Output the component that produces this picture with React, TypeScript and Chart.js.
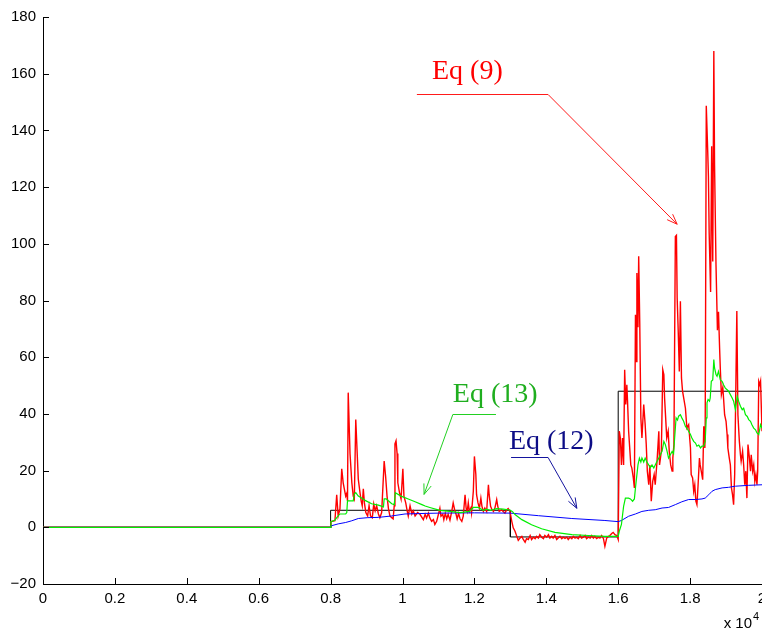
import React, { useEffect, useRef } from 'react';
import { Chart, registerables } from 'chart.js';

Chart.register(...registerables);

// x values are in units of 10^4
const stepSeries: [number, number][] = [
  [0, 0], [0.8, 0], [0.8, 6], [1.3, 6], [1.3, -3.4], [1.6, -3.4], [1.6, 48], [2.0, 48],
];

const redSeriesA: [number, number][] = [
  [0, 0], [0.8, 0], [0.801, 2.0], [0.812, 2.3], [0.817, 11.5], [0.821, 4], [0.826, 6.5], [0.831, 20.6],
  [0.835, 15.7], [0.838, 13.6], [0.842, 11], [0.845, 12], [0.847, 9.3], [0.849, 47.5], [0.854, 26],
  [0.859, 15.8], [0.863, 11], [0.866, 10], [0.870, 38], [0.874, 26], [0.877, 17], [0.882, 12],
  [0.885, 9.3], [0.888, 7.6], [0.891, 13.6], [0.894, 8.6], [0.898, 5.2], [0.903, 4], [0.907, 7.6],
  [0.911, 4], [0.916, 3.4], [0.920, 8.2], [0.924, 5.8], [0.928, 7.6], [0.933, 4.7], [0.937, 3.4],
  [0.942, 5.2], [0.949, 23.4], [0.953, 18], [0.957, 11], [0.961, 6.5], [0.965, 4], [0.970, 3.4],
  [0.974, 3], [0.977, 7.6], [0.979, 29.4], [0.982, 30.5], [0.985, 26], [0.987, 15.7], [0.992, 12],
  [0.996, 10], [1.001, 20.6], [1.004, 11], [1.009, 8.6], [1.013, 5.8], [1.016, 4], [1.021, 7.6],
  [1.026, 4.7], [1.030, 5.8], [1.035, 4], [1.042, 5.2], [1.049, 4.5], [1.058, 2.7], [1.063, 4.6],
  [1.067, 3.3], [1.072, 5], [1.076, 3.3], [1.081, 2.1], [1.086, 2.7], [1.090, 1], [1.095, 2.1],
  [1.100, 4.6], [1.104, 6.7], [1.107, 3.9], [1.112, 4.6], [1.115, 2.7], [1.119, 4.9], [1.123, 3],
  [1.127, 4.6], [1.132, 2.5], [1.137, 5.6], [1.141, 8.6], [1.145, 6.2], [1.149, 4.6], [1.152, 3],
  [1.156, 4.9], [1.160, 3], [1.165, 2.1], [1.169, 3.9], [1.174, 11.5], [1.177, 6.8], [1.180, 5.6],
  [1.183, 8.6], [1.186, 5.6], [1.190, 6.8], [1.192, 5], [1.197, 12.7], [1.200, 25], [1.204, 18.6],
  [1.206, 11.5], [1.210, 8.6], [1.214, 6.8], [1.218, 10.3], [1.221, 7.4], [1.225, 5.6], [1.229, 6.8],
  [1.234, 5.6], [1.239, 15], [1.241, 11.5], [1.245, 7.4], [1.249, 6.2], [1.253, 5.6], [1.257, 6.8],
  [1.262, 9.8], [1.265, 7.4], [1.269, 5.6], [1.276, 6.2], [1.280, 5.6], [1.285, 5], [1.290, 6.2],
  [1.294, 6.6], [1.299, 5.6],
];

const redSeriesB: [number, number][] = [
  [1.304, 2.1], [1.308, -0.2], [1.313, -1.4], [1.318, -3.2], [1.322, -4.6], [1.327, -3.8], [1.332, -3.2],
  [1.336, -4.3], [1.341, -5.3], [1.345, -4], [1.350, -4.3], [1.355, -2.9], [1.359, -4.3], [1.364, -3.5],
  [1.369, -4], [1.373, -3.2], [1.378, -3.8], [1.382, -2.6], [1.387, -3.5], [1.392, -4], [1.396, -2.9],
  [1.401, -3.5], [1.406, -2.6], [1.410, -3.8], [1.415, -3.2], [1.419, -3.8], [1.424, -2.9], [1.429, -4.3],
  [1.433, -3.8], [1.438, -3.2], [1.443, -4], [1.447, -3.5], [1.452, -3.9], [1.457, -3.5], [1.461, -4.3],
  [1.466, -3.5], [1.471, -4], [1.475, -3.2], [1.480, -3.8], [1.484, -3.5], [1.489, -4], [1.494, -2.9],
  [1.498, -3.8], [1.503, -3.5], [1.508, -2.9], [1.512, -4], [1.517, -3.5], [1.522, -3.8], [1.526, -2.9],
  [1.531, -3.8], [1.535, -3.2], [1.540, -4], [1.545, -3.5], [1.549, -3.8], [1.554, -2.9], [1.559, -4],
  [1.563, -6.7], [1.568, -3.8], [1.573, -3.2], [1.577, -2.9], [1.582, -2.2], [1.586, -1.8], [1.591, -2.6],
  [1.596, -2.9], [1.600, -4.3],
];

const redSeriesC: [number, number][] = [
  [1.603, 33.9], [1.606, 31.5], [1.609, 22], [1.612, 31.5], [1.615, 22], [1.618, 55.6], [1.621, 43.3],
  [1.624, 50.3], [1.626, 44.4], [1.629, 33.9], [1.632, 28], [1.635, 22], [1.638, 20.9], [1.642, 17.4],
  [1.645, 13.9], [1.648, 75], [1.650, 58.5], [1.652, 89.7], [1.655, 70.6], [1.657, 95.6], [1.660, 71.5],
  [1.663, 38.6], [1.666, 31.5], [1.671, 43.3], [1.675, 36.2], [1.678, 29.2], [1.681, 19.8], [1.685, 15],
  [1.688, 22], [1.692, 9.2], [1.696, 16.2], [1.700, 18.6], [1.703, 15], [1.708, 23.3], [1.713, 33.9],
  [1.715, 22], [1.720, 26.8], [1.724, 55.6], [1.727, 53.9], [1.729, 45.6], [1.732, 38.6], [1.735, 31.5],
  [1.739, 33.9], [1.742, 26.8], [1.746, 22], [1.750, 19.8], [1.752, 24.4], [1.755, 29.2], [1.759, 102.6],
  [1.762, 103], [1.764, 81], [1.767, 69], [1.770, 55], [1.773, 79.7], [1.776, 52.7], [1.779, 48],
  [1.787, 42], [1.791, 35], [1.796, 36.2], [1.801, 28], [1.803, 18.6], [1.807, 17.4], [1.810, 12.7],
  [1.813, 15], [1.816, 9.2], [1.819, 8], [1.822, 14.5], [1.826, 24.4], [1.828, 22], [1.831, 19.8],
  [1.835, 16.8], [1.838, 35.6], [1.841, 28], [1.842, 35], [1.845, 148.7], [1.849, 132.6], [1.851, 123.6],
  [1.853, 104], [1.857, 83], [1.860, 134.4], [1.863, 93.8], [1.866, 168], [1.868, 128], [1.872, 92.8],
  [1.876, 69.5], [1.879, 76], [1.882, 63.4], [1.884, 56], [1.887, 46.8], [1.891, 49.3], [1.893, 45.6],
  [1.896, 39.7], [1.900, 37.4], [1.903, 32.7], [1.905, 28], [1.909, 24.4], [1.912, 22], [1.915, 13.9],
  [1.918, 11.5], [1.921, 8], [1.924, 18.6], [1.930, 76.3], [1.933, 39.7], [1.937, 30.3], [1.940, 25.6],
  [1.942, 23.3], [1.946, 26.8], [1.949, 22], [1.952, 15], [1.955, 19.8], [1.958, 10.3], [1.961, 29.2],
  [1.965, 24.4], [1.968, 19.8], [1.970, 25.6], [1.974, 19.8], [1.977, 22], [1.980, 16.2], [1.983, 18.6],
  [1.986, 15], [1.988, 19.8], [1.991, 51.5], [1.994, 50.3], [1.996, 51.5], [2.000, 33.9],
];

const greenSeries: [number, number][] = [
  [0, 0], [0.8, 0], [0.801, 2.0], [0.812, 2.5], [0.817, 3.4], [0.826, 4.7], [0.842, 4.7], [0.845, 5.2],
  [0.847, 9.3], [0.863, 9.3], [0.866, 11.8], [0.870, 12.2], [0.877, 11], [0.886, 10.3], [0.896, 9.5],
  [0.914, 8.3], [0.933, 7.8], [0.947, 7.2], [0.949, 10], [0.955, 10], [0.970, 8.3], [0.977, 8],
  [0.980, 12.2], [0.996, 11], [1.016, 10], [1.035, 9], [1.054, 8], [1.063, 7.5], [1.076, 7], [1.104, 6],
  [1.132, 5.6], [1.160, 5.2], [1.186, 5.6], [1.197, 7], [1.210, 7], [1.225, 6], [1.234, 6.4], [1.245, 6],
  [1.262, 6.6], [1.280, 6.4], [1.294, 6.2], [1.300, 6], [1.306, 5.5], [1.313, 4.5], [1.332, 2.7],
  [1.359, 0.9], [1.387, -0.5], [1.424, -1.8], [1.471, -2.6], [1.517, -2.9], [1.563, -3.2], [1.600, -3.2],
  [1.603, -1.4], [1.609, 1], [1.615, 7.4], [1.620, 10.3], [1.629, 10.3], [1.634, 10], [1.640, 9.2],
  [1.645, 10], [1.648, 13.9], [1.655, 22], [1.659, 24.4], [1.663, 23], [1.666, 24.4], [1.671, 23],
  [1.675, 24.4], [1.680, 23], [1.685, 22], [1.689, 21], [1.694, 22], [1.699, 20.9], [1.703, 22],
  [1.708, 23.3], [1.713, 24.4], [1.717, 25.6], [1.722, 26.8], [1.727, 30.3], [1.731, 29.2], [1.736, 26.8],
  [1.740, 24.4], [1.745, 25.6], [1.750, 26.8], [1.754, 26], [1.757, 31.5], [1.761, 38.6], [1.765, 37.8],
  [1.768, 39.2], [1.773, 39.7], [1.777, 38.6], [1.782, 37.4], [1.787, 35.6], [1.791, 35], [1.796, 33.9],
  [1.801, 32.7], [1.805, 31.5], [1.810, 30.3], [1.815, 29.7], [1.819, 28.6], [1.824, 29], [1.829, 28],
  [1.833, 28.6], [1.838, 28.6], [1.842, 30.3], [1.845, 38.6], [1.847, 43.9], [1.850, 45.1], [1.854, 44.5],
  [1.856, 45.6], [1.859, 51.5], [1.863, 52], [1.866, 59.2], [1.868, 56.2], [1.872, 53.9], [1.875, 53.3],
  [1.879, 55], [1.884, 52], [1.889, 51.5], [1.893, 50.3], [1.898, 49.1], [1.903, 48.5], [1.907, 48],
  [1.912, 46.8], [1.917, 45.6], [1.921, 44.5], [1.926, 41.5], [1.931, 46.2], [1.935, 44.5], [1.940, 42.7],
  [1.945, 41.5], [1.949, 42], [1.954, 39.7], [1.959, 39.1], [1.963, 38], [1.968, 37.4], [1.972, 36.2],
  [1.977, 35], [1.982, 34.4], [1.986, 33.3], [1.991, 32.7], [1.996, 36.2], [2.000, 35],
];

const blueSeries: [number, number][] = [
  [0, 0], [0.8, 0], [0.801, 0.5], [0.821, 1.2], [0.842, 1.7], [0.859, 2.3], [0.877, 3.1], [0.903, 3.4],
  [0.933, 3.5], [0.970, 4], [1.007, 4.7], [1.063, 4.9], [1.10, 5], [1.2, 5.1], [1.3, 5], [1.378, 4.1],
  [1.471, 3.1], [1.563, 2.4], [1.600, 2], [1.609, 2.4], [1.629, 3.9], [1.648, 4.7], [1.666, 5.6],
  [1.685, 6], [1.703, 6.2], [1.722, 6.8], [1.740, 7], [1.759, 8], [1.777, 9], [1.796, 9.8], [1.815, 9.8],
  [1.833, 10], [1.842, 10.3], [1.852, 11.5], [1.861, 12.7], [1.870, 13.3], [1.889, 13.9], [1.907, 14.1],
  [1.926, 14.5], [1.963, 14.8], [2.0, 15],
];

// annotation anchors in data coordinates
const annotationLabels = ['Eq (9)', 'Eq (13)', 'Eq (12)'];
const annotationTextAt: [number, number][] = [[1.082, 160.8], [1.140, 46.9], [1.296, 30.3]];
const annotationLineFrom: [number, number][] = [[1.040, 152.7], [1.260, 39.9], [1.302, 24.7]];
const annotationElbow: [number, number][] = [[1.405, 152.7], [1.140, 39.9], [1.405, 24.7]];
const annotationTip: [number, number][] = [[1.764, 106.9], [1.060, 11.6], [1.485, 6.7]];
const annotationTextColors = ['#ff0000', '#1fae1f', '#0c0c86'];
const annotationLineColors = ['#ff1a1a', '#22d022', '#14149e'];

const toPts = (s: [number, number][]) => s.map(([x, y]) => ({ x, y }));

const overlayPlugin = {
  id: 'overlay',
  afterDraw(chart: any) {
    const ctx = chart.ctx as CanvasRenderingContext2D;
    const xs = chart.scales.x;
    const ys = chart.scales.y;
    const area = chart.chartArea;
    ctx.save();
    // inward tick marks
    ctx.strokeStyle = '#000';
    ctx.lineWidth = 1;
    xs.ticks.forEach((t: any) => {
      const px = Math.round(xs.getPixelForValue(t.value)) + 0.5;
      ctx.beginPath();
      ctx.moveTo(px, area.bottom);
      ctx.lineTo(px, area.bottom - 6);
      ctx.stroke();
    });
    ys.ticks.forEach((t: any) => {
      const py = Math.round(ys.getPixelForValue(t.value)) + 0.5;
      ctx.beginPath();
      ctx.moveTo(area.left, py);
      ctx.lineTo(area.left + 6, py);
      ctx.stroke();
    });
    // exponent label
    ctx.fillStyle = '#000';
    ctx.font = '15px "Liberation Sans", Arial, sans-serif';
    ctx.textAlign = 'right';
    ctx.textBaseline = 'alphabetic';
    ctx.fillText('x 10', area.right - 10, area.bottom + 44);
    ctx.font = '11px "Liberation Sans", Arial, sans-serif';
    ctx.textAlign = 'left';
    ctx.fillText('4', area.right - 9, area.bottom + 36);

    // annotations
    const snap = (v: number) => Math.round(v) + 0.5;
    annotationLabels.forEach((label, i) => {
      const p = (d: [number, number]) => [xs.getPixelForValue(d[0]), ys.getPixelForValue(d[1])];
      const [tx, ty] = p(annotationTextAt[i]);
      const [ax, ay] = p(annotationLineFrom[i]);
      const [ex, ey] = p(annotationElbow[i]);
      const [hx, hy] = p(annotationTip[i]);
      ctx.fillStyle = annotationTextColors[i];
      ctx.font = '28px "Liberation Serif", "Times New Roman", serif';
      ctx.textAlign = 'left';
      ctx.textBaseline = 'middle';
      ctx.fillText(label, tx, ty);
      ctx.strokeStyle = annotationLineColors[i];
      ctx.lineWidth = 1;
      ctx.beginPath();
      ctx.moveTo(ax, snap(ay));
      ctx.lineTo(ex, snap(ey));
      ctx.lineTo(hx, hy);
      ctx.stroke();
      const ang = Math.atan2(hy - snap(ey), hx - ex);
      const len = 11;
      const spread = 0.36;
      ctx.beginPath();
      ctx.moveTo(hx - len * Math.cos(ang - spread), hy - len * Math.sin(ang - spread));
      ctx.lineTo(hx, hy);
      ctx.lineTo(hx - len * Math.cos(ang + spread), hy - len * Math.sin(ang + spread));
      ctx.stroke();
    });
    ctx.restore();
  },
};

const tickFont = { family: '"Liberation Sans", Arial, sans-serif', size: 15 };

export default function App() {
  const ref = useRef<HTMLCanvasElement | null>(null);

  useEffect(() => {
    if (!ref.current) return;
    const chart = new Chart(ref.current, {
      type: 'line',
      data: {
        datasets: [
          { data: toPts(greenSeries), borderColor: '#00ee00', borderWidth: 1.2 },
          { data: toPts(blueSeries), borderColor: '#0000ff', borderWidth: 1 },
          { data: toPts([...redSeriesA, ...redSeriesB, ...redSeriesC]), borderColor: '#ff0000', borderWidth: 1.4 },
          { data: toPts(stepSeries), borderColor: '#000000', borderWidth: 1 },
        ] as any,
      },
      options: {
        animation: false,
        responsive: false,
        devicePixelRatio: 1,
        layout: { padding: { top: 17, right: 0, left: 0, bottom: 0 } },
        plugins: { legend: { display: false }, tooltip: { enabled: false } },
        elements: { point: { radius: 0 }, line: { tension: 0 } },
        scales: {
          x: {
            type: 'linear',
            min: 0,
            max: 2,
            grid: { display: false, drawTicks: false },
            border: { display: true, color: '#000', width: 1 },
            ticks: {
              stepSize: 0.2,
              autoSkip: false,
              maxRotation: 0,
              color: '#000',
              font: tickFont,
              padding: 6,
              callback: (v: any) => String(Math.round(Number(v) * 10) / 10),
            },
            afterFit: (s: any) => {
              s.height = 48;
              s.paddingLeft = 0;
              s.paddingRight = 0;
            },
          },
          y: {
            type: 'linear',
            min: -20,
            max: 180,
            grid: { display: false, drawTicks: false },
            border: { display: true, color: '#000', width: 1 },
            ticks: {
              stepSize: 20,
              autoSkip: false,
              color: '#000',
              font: tickFont,
              padding: 7,
              callback: (v: any) => String(Math.round(Number(v))).replace('-', '\u2212'),
            },
            afterFit: (s: any) => {
              s.width = 43;
              s.paddingTop = 0;
              s.paddingBottom = 0;
            },
          },
        },
      } as any,
      plugins: [overlayPlugin],
    });
    return () => chart.destroy();
  }, []);

  return (
    <div style={{ position: 'absolute', left: 0, top: 0, width: 762, height: 632, background: '#fff' }}>
      <canvas ref={ref} width={762} height={632} style={{ width: 762, height: 632, display: 'block' }} />
    </div>
  );
}
